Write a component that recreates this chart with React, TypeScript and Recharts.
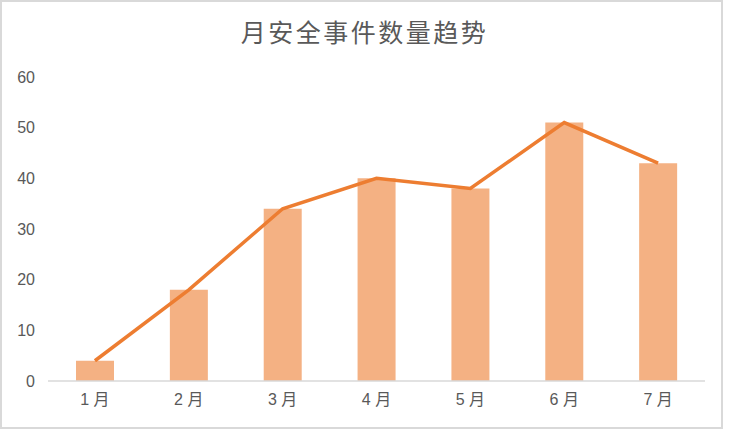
import React from "react";
import { ComposedChart, Bar, Line, XAxis, YAxis } from "recharts";

const months = ["1 月", "2 月", "3 月", "4 月", "5 月", "6 月", "7 月"];
const barValues = [4, 18, 34, 40, 38, 51, 43];
const lineValues = [4, 18, 34, 40, 38, 51, 43];
const yTicks = [0, 10, 20, 30, 40, 50, 60];

const data = months.map((m, i) => ({ month: m, bar: barValues[i], line: lineValues[i] }));

const FONT = '"Liberation Sans", "Noto Sans CJK SC", sans-serif';

export default function App() {
  return (
    <div style={{ position: "absolute", left: 0, top: 0, width: 729, height: 430, background: "#fff" }}>
      <div
        style={{
          position: "absolute",
          left: 0,
          top: 0,
          width: 723,
          height: 429,
          boxSizing: "border-box",
          border: "2px solid #d9d9d9",
        }}
      />
      <div
        style={{
          position: "absolute",
          left: 0,
          top: 14,
          width: 729,
          textAlign: "center",
          fontFamily: '"Noto Sans CJK SC", sans-serif',
          fontSize: 25,
          letterSpacing: 2.5,
          color: "#595959",
          lineHeight: "34px",
        }}
      >
        月安全事件数量趋势
      </div>
      <div style={{ position: "absolute", left: 0, top: 0 }}>
        <ComposedChart
          width={729}
          height={430}
          data={data}
          margin={{ top: 77, right: 24, bottom: 0, left: 0 }}
        >
          <XAxis
            dataKey="month"
            axisLine={{ stroke: "#d9d9d9", strokeWidth: 1.5 }}
            tickLine={false}
            tickMargin={7}
            height={49}
            tick={{ fill: "#595959", fontSize: 16, fontFamily: FONT }}
          />
          <YAxis
            domain={[0, 60]}
            ticks={yTicks}
            axisLine={false}
            tickLine={false}
            width={48}
            tickMargin={7}
            tick={{ fill: "#595959", fontSize: 16, fontFamily: FONT }}
          />
          <Bar dataKey="bar" fill="#F4B183" barSize={38} isAnimationActive={false} />
          <Line
            dataKey="line"
            type="linear"
            stroke="#ED7D31"
            strokeWidth={3.5}
            dot={false}
            activeDot={false}
            isAnimationActive={false}
          />
        </ComposedChart>
      </div>
    </div>
  );
}
